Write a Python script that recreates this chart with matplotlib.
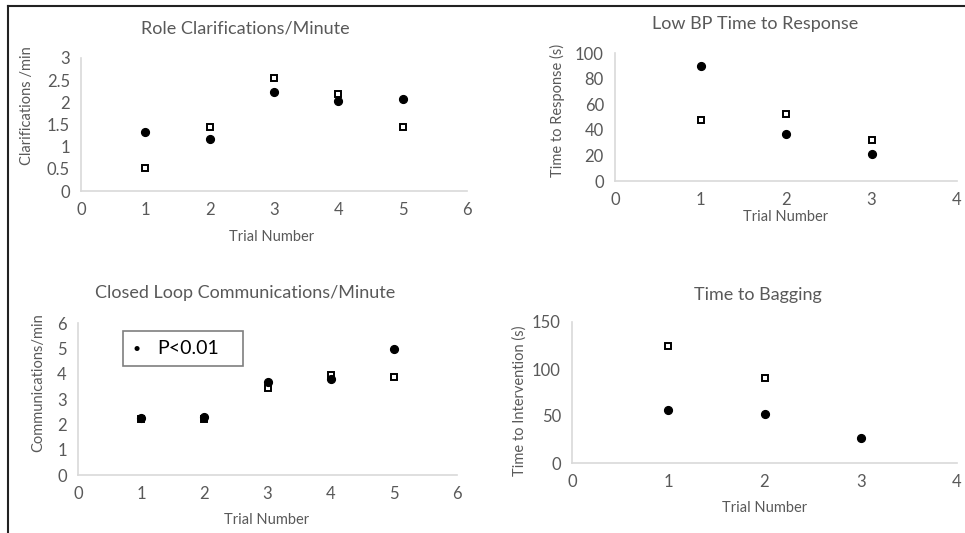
import matplotlib
matplotlib.use("Agg")
import matplotlib.pyplot as plt
from matplotlib.lines import Line2D
from matplotlib.patches import Rectangle

plt.rcParams['font.family'] = ['Lato', 'DejaVu Sans']

# ---------------- data ----------------
role_trials = [1, 2, 3, 4, 5]
role_circle = [1.34, 1.17, 2.23, 2.03, 2.08]
role_square = [0.51, 1.44, 2.56, 2.18, 1.44]

bp_trials = [1, 2, 3]
bp_circle = [90, 37, 21]
bp_square = [48, 52, 32]

clc_trials = [1, 2, 3, 4, 5]
clc_circle = [2.24, 2.27, 3.69, 3.80, 4.98]
clc_square = [2.22, 2.20, 3.42, 3.95, 3.87]

bag_trials_circle = [1, 2, 3]
bag_circle = [56, 52, 27]
bag_trials_square = [1, 2]
bag_square = [124, 90]

W, H = 965, 533
fig = plt.figure(figsize=(W / 100, H / 100), dpi=100)

def px_axes(l, r, t, b):
    return fig.add_axes([l / W, (H - b) / H, (r - l) / W, (b - t) / H])

GRAY_TXT = '#595959'
AX_COL = '#d9d9d9'

def style(ax, xmax, ymax, yticks):
    ax.set_xlim(0, xmax)
    ax.set_ylim(0, ymax)
    ax.set_xticks(range(0, xmax + 1))
    ax.set_yticks(yticks)
    ax.set_yticklabels([('%g' % v) for v in yticks])
    for s in ['top', 'right']:
        ax.spines[s].set_visible(False)
    for s in ['left', 'bottom']:
        ax.spines[s].set_color(AX_COL)
        ax.spines[s].set_linewidth(1.2)
    ax.tick_params(length=0, labelsize=12, colors=GRAY_TXT, pad=8)
    ax.patch.set_alpha(0)
    for sp in ax.spines.values():
        sp.set_clip_on(False)

def plot_pts(ax, xc, yc, xs, ys):
    ax.plot(xs, ys, linestyle='none', marker='s', markersize=4.6,
            markerfacecolor='white', markeredgecolor='black', markeredgewidth=1.4,
            clip_on=False)
    ax.plot(xc, yc, linestyle='none', marker='o', markersize=5.6,
            color='black', clip_on=False)

def ftext(x, y, s, size, rot=0):
    fig.text(x / W, 1 - y / H, s, ha='center', va='center', fontsize=size,
             color=GRAY_TXT, rotation=rot)

# Top-left
ax1 = px_axes(81, 467, 58, 191)
style(ax1, 6, 3, [0, 0.5, 1, 1.5, 2, 2.5, 3])
plot_pts(ax1, role_trials, role_circle, role_trials, role_square)
ftext(245, 29, 'Role Clarifications/Minute', 13)
ftext(272, 237, 'Trial Number', 10.5)
ftext(27, 106, 'Clarifications /min', 10.5, 90)

# Top-right
ax2 = px_axes(615, 957, 53, 181)
style(ax2, 4, 100, [0, 20, 40, 60, 80, 100])
plot_pts(ax2, bp_trials, bp_circle, bp_trials, bp_square)
ftext(755, 24, 'Low BP Time to Response', 13)
ftext(786, 217, 'Trial Number', 10.5)
ftext(557, 110, 'Time to Response (s)', 10.5, 90)

# Bottom-left
ax3 = px_axes(78, 457, 323, 475)
style(ax3, 6, 6, [0, 1, 2, 3, 4, 5, 6])
plot_pts(ax3, clc_trials, clc_circle, clc_trials, clc_square)
ftext(245, 293, 'Closed Loop Communications/Minute', 13)
ftext(267, 520, 'Trial Number', 10.5)
ftext(38, 383, 'Communications/min', 10.5, 90)

# legend-like box
fig.add_artist(Rectangle((123 / W, 1 - 366 / H), 120 / W, 35 / H,
                         transform=fig.transFigure, facecolor='white',
                         edgecolor='#7f7f7f', linewidth=1.2))
fig.text(137 / W, 1 - 349 / H, '•', ha='center', va='center', fontsize=10, color='black')
fig.text(157 / W, 1 - 349 / H, 'P<0.01', ha='left', va='center', fontsize=14, color='black')

# Bottom-right
ax4 = px_axes(572, 957, 322, 463)
style(ax4, 4, 150, [0, 50, 100, 150])
plot_pts(ax4, bag_trials_circle, bag_circle, bag_trials_square, bag_square)
ftext(758, 295, 'Time to Bagging', 13)
ftext(765, 508, 'Trial Number', 10.5)
ftext(520, 401, 'Time to Intervention (s)', 10.5, 90)

# outer frame lines (top and left)
fig.add_artist(Line2D([8 / W, 1], [1 - 6 / H, 1 - 6 / H], transform=fig.transFigure,
                      color='#222222', linewidth=1.5))
fig.add_artist(Line2D([8 / W, 8 / W], [0, 1 - 6 / H], transform=fig.transFigure,
                      color='#222222', linewidth=1.5))

fig.savefig('out.png', dpi=100)
